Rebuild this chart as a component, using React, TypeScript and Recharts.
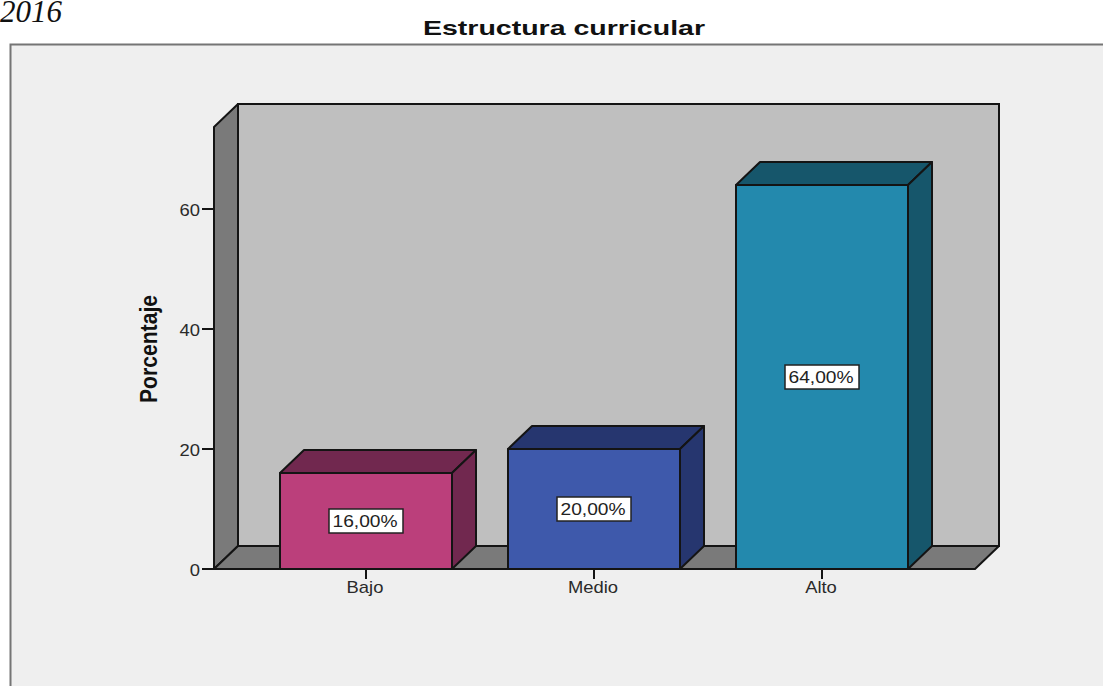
import { BarChart, Bar, XAxis, YAxis, LabelList, usePlotArea } from 'recharts'

const categories = ['Bajo', 'Medio', 'Alto']
const percentages = [16, 20, 64]
const frontColors = ['#bb3f7b', '#3e59ab', '#2389ad']
const sideColors = ['#71284f', '#26366f', '#16566b']
const yTicks = [0, 20, 40, 60]

const data = categories.map((name, i) => ({ name, value: percentages[i] }))

const DEPTH_X = 24
const DEPTH_Y = 23
const EDGE = '#141414'
const SANS = '"Liberation Sans", Arial, sans-serif'

function Backdrop() {
  const plot = usePlotArea()
  if (!plot) return null
  const { x, y, width, height } = plot
  const bottom = y + height
  const right = x + width
  const pts = (list: number[][]) => list.map((p) => p.join(',')).join(' ')

  return (
    <g>
      <rect x={10.5} y={44.5} width={1200} height={800} fill="#efefef" stroke="#757575" strokeWidth={2} />
      <text x={0} y={22} fontFamily='"Liberation Serif", serif' fontStyle="italic" fontSize={31} fill="#111">
        2016
      </text>
      <text
        x={423}
        y={35}
        fontFamily={SANS}
        fontWeight="bold"
        fontSize={21}
        fill="#111"
        textLength={282}
        lengthAdjust="spacingAndGlyphs"
      >
        Estructura curricular
      </text>
      <text
        x={0}
        y={0}
        transform="translate(157,349) rotate(-90)"
        textAnchor="middle"
        fontFamily={SANS}
        fontWeight="bold"
        fontSize={24}
        fill="#111"
        textLength={108}
        lengthAdjust="spacingAndGlyphs"
      >
        Porcentaje
      </text>
      <rect
        x={x + DEPTH_X}
        y={y - DEPTH_Y}
        width={width}
        height={height}
        fill="#bfbfbf"
        stroke={EDGE}
        strokeWidth={2}
      />
      <polygon
        points={pts([[x, y], [x + DEPTH_X, y - DEPTH_Y], [x + DEPTH_X, bottom - DEPTH_Y], [x, bottom]])}
        fill="#7a7a7a"
        stroke={EDGE}
        strokeWidth={2}
        strokeLinejoin="round"
      />
      <polygon
        points={pts([[x, bottom], [x + DEPTH_X, bottom - DEPTH_Y], [right + DEPTH_X, bottom - DEPTH_Y], [right, bottom]])}
        fill="#7a7a7a"
        stroke={EDGE}
        strokeWidth={2}
        strokeLinejoin="round"
      />
    </g>
  )
}

function Box3D(props: any) {
  const { x, y, width, height, index } = props
  const r = x + width
  const b = y + height
  const pts = (list: number[][]) => list.map((p) => p.join(',')).join(' ')
  return (
    <g stroke={EDGE} strokeWidth={2} strokeLinejoin="round">
      <polygon
        points={pts([[x, y], [x + DEPTH_X, y - DEPTH_Y], [r + DEPTH_X, y - DEPTH_Y], [r, y]])}
        fill={sideColors[index]}
      />
      <polygon
        points={pts([[r, y], [r + DEPTH_X, y - DEPTH_Y], [r + DEPTH_X, b - DEPTH_Y], [r, b]])}
        fill={sideColors[index]}
      />
      <rect x={x} y={y} width={width} height={height} fill={frontColors[index]} />
    </g>
  )
}

function ValueBox(props: any) {
  const { x, y, width, height, value } = props
  const cx = x + width / 2
  const cy = y + height / 2
  const label = Number(value).toFixed(2).replace('.', ',') + '%'
  return (
    <g>
      <rect x={cx - 37} y={cy - 12} width={74} height={24} fill="#fff" stroke="#222" strokeWidth={1.5} />
      <text
        x={cx - 1}
        y={cy + 6}
        textAnchor="middle"
        fontFamily={SANS}
        fontSize={16}
        fill="#222"
        textLength={65}
        lengthAdjust="spacingAndGlyphs"
      >
        {label}
      </text>
    </g>
  )
}

function StretchedTick(props: any) {
  const { x, y, payload, anchor, dx, dy } = props
  return (
    <g transform={`translate(${x + dx},${y + dy}) scale(1.15,1)`}>
      <text textAnchor={anchor} fontFamily={SANS} fontSize={16} fill="#2a2a2a">
        {payload.value}
      </text>
    </g>
  )
}

export default function App() {
  return (
    <div style={{ position: 'absolute', left: 0, top: 0, width: 1103, height: 686, overflow: 'hidden', background: '#fff' }}>
      <BarChart
        width={1103}
        height={686}
        data={data}
        margin={{ top: 127, right: 128, left: 154, bottom: 87 }}
        barSize={172}
      >
        <Backdrop />
        <XAxis
          dataKey="name"
          height={30}
          padding={{ left: 38, right: 39 }}
          stroke={EDGE}
          strokeWidth={2}
          tickSize={10}
          tickMargin={0}
          tick={(p: any) => <StretchedTick {...p} anchor="middle" dx={-1} dy={14} />}
        />
        <YAxis
          width={60}
          domain={[0, 73.67]}
          ticks={yTicks}
          allowDataOverflow
          stroke={EDGE}
          strokeWidth={2}
          tickSize={12}
          tick={(p: any) => <StretchedTick {...p} anchor="end" dx={0} dy={7} />}
        />
        <Bar dataKey="value" shape={Box3D} isAnimationActive={false}>
          <LabelList dataKey="value" content={ValueBox} />
        </Bar>
      </BarChart>
    </div>
  )
}
